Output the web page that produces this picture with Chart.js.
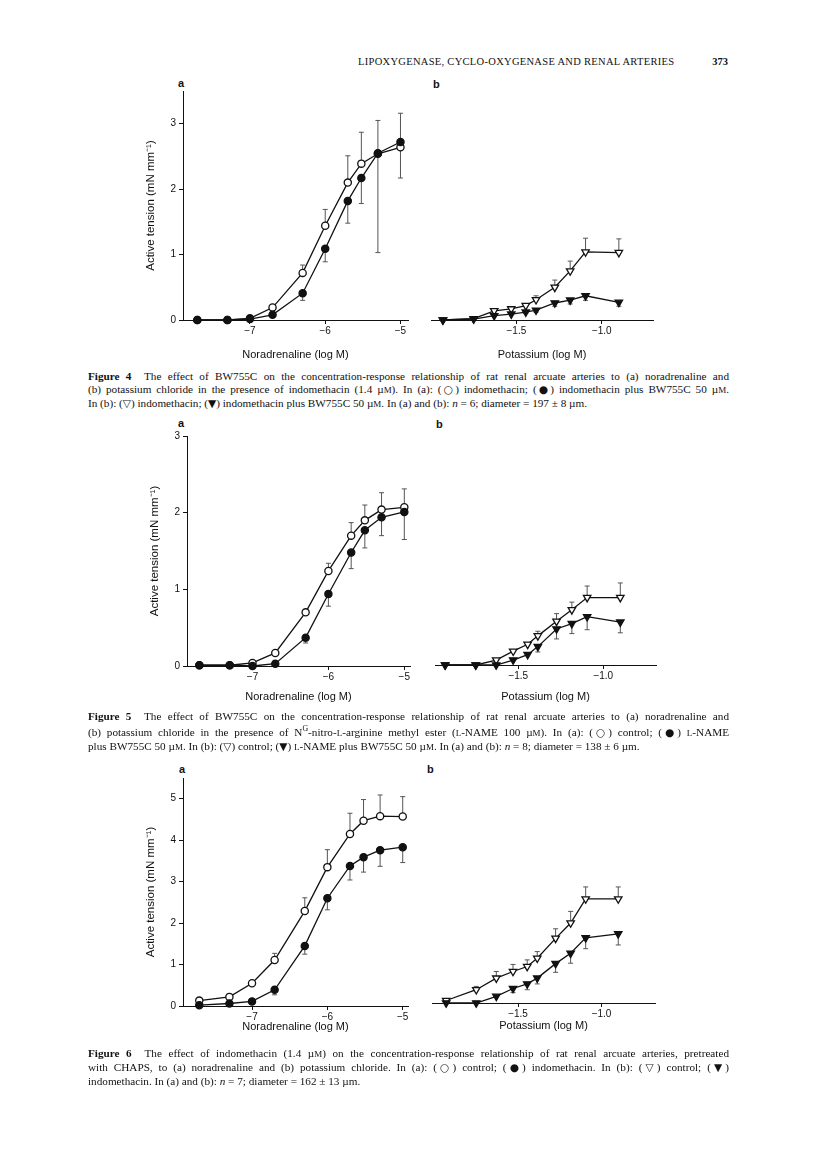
<!DOCTYPE html>
<html>
<head>
<meta charset="utf-8">
<script src="https://cdn.jsdelivr.net/npm/chart.js@4.4.0/dist/chart.umd.min.js"></script>
<style>
  body { margin: 0; background: #fff; }
  #page { position: relative; width: 816px; height: 1166px; overflow: hidden; background: #fff; color: #111; font-family: 'Liberation Serif', 'Times New Roman', serif; }
  .panel { position: absolute; }
  .letter { position: absolute; font: bold 11px 'Liberation Sans', Arial, sans-serif; line-height: 12px; }
  .caption { position: absolute; left: 88px; width: 641px; font-size: 11.2px; line-height: 12.9px; }
  .caption div { text-align: justify; text-align-last: justify; }
  .caption div.last { text-align-last: left; }
  .sc { font-size: 0.8em; }
  .sym { font-family: 'DejaVu Sans', sans-serif; font-size: 0.95em; }
  .header { position: absolute; top: 56px; left: 358px; font-size: 10.5px; letter-spacing: 0.3px; }
  .pageno { position: absolute; top: 56px; right: 88px; font-size: 10.5px; font-weight: bold; }
</style>
</head>
<body>
<div id="page">
  <div class="header">LIPOXYGENASE, CYCLO-OXYGENASE AND RENAL ARTERIES</div>
  <div class="pageno">373</div>

  <div class="letter" style="left:178px; top:77px">a</div>
  <div class="letter" style="left:433px; top:78px">b</div>
  <canvas id="fig4a" class="panel"></canvas>
  <canvas id="fig4b" class="panel"></canvas>
  <div class="caption" style="top:370px">
    <div><b>Figure 4</b>&nbsp; The effect of BW755C on the concentration-response relationship of rat renal arcuate arteries to (a) noradrenaline and</div>
    <div>(b) potassium chloride in the presence of indomethacin (1.4 µ<span class="sc">M</span>). In (a): (<span class="sym">○</span>) indomethacin; (<span class="sym">●</span>) indomethacin plus BW755C 50 µ<span class="sc">M</span>.</div>
    <div class="last">In (b): (<span class="sym">▽</span>) indomethacin; (<span class="sym">▼</span>) indomethacin plus BW755C 50 µ<span class="sc">M</span>. In (a) and (b): <i>n</i> = 6; diameter = 197 ± 8 µm.</div>
  </div>

  <div class="letter" style="left:178px; top:417px">a</div>
  <div class="letter" style="left:436px; top:418px">b</div>
  <canvas id="fig5a" class="panel"></canvas>
  <canvas id="fig5b" class="panel"></canvas>
  <div class="caption" style="top:710px">
    <div><b>Figure 5</b>&nbsp; The effect of BW755C on the concentration-response relationship of rat renal arcuate arteries to (a) noradrenaline and</div>
    <div>(b) potassium chloride in the presence of N<sup style="font-size:0.7em">G</sup>-nitro-<span class="sc">L</span>-arginine methyl ester (<span class="sc">L</span>-NAME 100 µ<span class="sc">M</span>). In (a): (<span class="sym">○</span>) control; (<span class="sym">●</span>) <span class="sc">L</span>-NAME</div>
    <div class="last">plus BW755C 50 µ<span class="sc">M</span>. In (b): (<span class="sym">▽</span>) control; (<span class="sym">▼</span>) <span class="sc">L</span>-NAME plus BW755C 50 µ<span class="sc">M</span>. In (a) and (b): <i>n</i> = 8; diameter = 138 ± 6 µm.</div>
  </div>

  <div class="letter" style="left:179px; top:763px">a</div>
  <div class="letter" style="left:427px; top:763px">b</div>
  <canvas id="fig6a" class="panel"></canvas>
  <canvas id="fig6b" class="panel"></canvas>
  <div class="caption" style="top:1047px">
    <div><b>Figure 6</b>&nbsp; The effect of indomethacin (1.4 µ<span class="sc">M</span>) on the concentration-response relationship of rat renal arcuate arteries, pretreated</div>
    <div>with CHAPS, to (a) noradrenaline and (b) potassium chloride. In (a): (<span class="sym">○</span>) control; (<span class="sym">●</span>) indomethacin. In (b): (<span class="sym">▽</span>) control; (<span class="sym">▼</span>)</div>
    <div class="last">indomethacin. In (a) and (b): <i>n</i> = 7; diameter = 162 ± 13 µm.</div>
  </div>
</div>

<script>
// x values (log M)
const noradrenalineLogM = [-7.7, -7.3, -7.0, -6.7, -6.3, -6.0, -5.7, -5.52, -5.3, -5.0];
const potassiumLogM = [-1.93, -1.75, -1.63, -1.53, -1.445, -1.385, -1.275, -1.185, -1.095, -0.90];
const noradrenalineTicks = [-7, -6, -5];
const potassiumTicks = [-1.5, -1.0];

// Figure 4 (mN mm-1), errors = s.e.mean
const fig4aOpen = [0, 0, 0.025, 0.19, 0.72, 1.44, 2.10, 2.39, 2.54, 2.64];
const fig4aOpenErr = [0, 0, 0, 0, 0.12, 0.25, 0.41, 0.48, 0.51, 0.52];
const fig4aFilled = [0, 0, 0.015, 0.08, 0.41, 1.09, 1.82, 2.17, 2.55, 2.72];
const fig4aFilledErr = [0, 0, 0, 0, 0.11, 0.20, 0.34, 0.39, 1.52, 0.55];
const fig4bOpen = [0, 0.02, 0.14, 0.17, 0.22, 0.31, 0.50, 0.75, 1.04, 1.03];
const fig4bOpenErr = [0, 0, 0, 0, 0.02, 0.06, 0.11, 0.15, 0.21, 0.21];
const fig4bFilled = [0, 0.015, 0.066, 0.09, 0.12, 0.15, 0.26, 0.305, 0.37, 0.27];
const fig4bFilledErr = [0, 0, 0, 0, 0.02, 0.03, 0.05, 0.06, 0.07, 0.06];
const fig4Ticks = [0, 1, 2, 3];

// Figure 5
const fig5aOpen = [0.01, 0.01, 0.04, 0.17, 0.70, 1.24, 1.70, 1.90, 2.04, 2.07];
const fig5aOpenErr = [0, 0, 0, 0, 0.03, 0.10, 0.17, 0.20, 0.22, 0.24];
const fig5aFilled = [0.01, 0.01, 0.0, 0.03, 0.37, 0.94, 1.48, 1.77, 1.94, 2.01];
const fig5aFilledErr = [0, 0, 0, 0, 0.07, 0.16, 0.21, 0.23, 0.24, 0.36];
const fig5bOpen = [0, 0, 0.065, 0.18, 0.27, 0.38, 0.57, 0.72, 0.88, 0.88];
const fig5bOpenErr = [0, 0, 0, 0, 0, 0.06, 0.10, 0.10, 0.15, 0.19];
const fig5bFilled = [0, 0, 0, 0.065, 0.135, 0.24, 0.47, 0.54, 0.63, 0.56];
const fig5bFilledErr = [0, 0, 0, 0, 0, 0.07, 0.13, 0.13, 0.17, 0.14];
const fig5Ticks = [0, 1, 2, 3];

// Figure 6
const fig6aOpen = [0.13, 0.22, 0.55, 1.11, 2.29, 3.35, 4.15, 4.47, 4.58, 4.57];
const fig6aOpenErr = [0, 0, 0, 0.16, 0.32, 0.42, 0.50, 0.51, 0.51, 0.48];
const fig6aFilled = [0.02, 0.06, 0.11, 0.39, 1.45, 2.60, 3.38, 3.59, 3.76, 3.83];
const fig6aFilledErr = [0, 0, 0, 0.12, 0.20, 0.28, 0.34, 0.36, 0.39, 0.37];
const fig6bOpen = [0.06, 0.32, 0.60, 0.76, 0.88, 1.08, 1.56, 1.93, 2.51, 2.51];
const fig6bOpenErr = [0, 0.08, 0.16, 0.17, 0.16, 0.16, 0.23, 0.28, 0.29, 0.29];
const fig6bFilled = [0, 0, 0.16, 0.35, 0.46, 0.60, 0.95, 1.20, 1.57, 1.67];
const fig6bFilledErr = [0, 0, 0, 0.10, 0.14, 0.14, 0.21, 0.24, 0.26, 0.27];
const fig6Ticks = [0, 1, 2, 3, 4, 5];

const INK = '#111';
const SANS = "'Liberation Sans', Arial, sans-serif";

// error bars: open symbols upward, filled symbols downward
const errorBars = {
    id: 'errorBars',
    beforeDatasetsDraw(chart) {
        const ctx = chart.ctx;
        const yScale = chart.scales.y;
        chart.data.datasets.forEach((ds, di) => {
            if (!ds.errors) return;
            const meta = chart.getDatasetMeta(di);
            ctx.save();
            ctx.strokeStyle = '#555';
            ctx.lineWidth = 1;
            meta.data.forEach((pt, i) => {
                const e = ds.errors[i];
                if (!e) return;
                const yEnd = yScale.getPixelForValue(ds.data[i].y + ds.errorDir * e);
                ctx.beginPath();
                ctx.moveTo(pt.x, pt.y);
                ctx.lineTo(pt.x, yEnd);
                ctx.moveTo(pt.x - 2.5, yEnd);
                ctx.lineTo(pt.x + 2.5, yEnd);
                ctx.stroke();
            });
            ctx.restore();
        });
    }
};

function makeSeries(xs, ys, errs, dir, filled, shape) {
    return {
        data: xs.map((x, i) => ({ x: x, y: ys[i] })),
        errors: errs,
        errorDir: dir,
        borderColor: INK,
        borderWidth: 1.3,
        tension: 0,
        clip: false,
        pointStyle: shape,
        pointRotation: shape === 'triangle' ? 180 : 0,
        pointRadius: shape === 'triangle' ? 4.3 : 3.6,
        pointBorderWidth: 1.3,
        pointBorderColor: INK,
        pointBackgroundColor: filled ? INK : '#fff'
    };
}

function fmtTick(v, decimals) {
    const s = Math.abs(v).toFixed(decimals);
    return (v < 0 ? '\u2212' : '') + s;
}

// area = chart area in page pixels
function makePanel(id, area, xMin, xMax, xTicks, xTitle, titleOff, yMax, yTicks, datasets, withY) {
    const padL = withY ? 55 : 10;
    const padT = 12, padR = 20, padB = 45;
    const canvas = document.getElementById(id);
    const w = Math.round(area.r - area.l + padL + padR);
    const h = Math.round(area.b - area.t + padT + padB);
    canvas.width = w;
    canvas.height = h;
    canvas.style.left = (area.l - padL) + 'px';
    canvas.style.top = (area.t - padT) + 'px';
    canvas.style.width = w + 'px';
    canvas.style.height = h + 'px';

    const decimals = xTicks.some(v => v % 1 !== 0) ? 1 : 0;

    return new Chart(canvas.getContext('2d'), {
        type: 'line',
        data: { datasets: datasets },
        options: {
            responsive: false,
            animation: false,
            devicePixelRatio: 1,
            layout: { padding: { left: withY ? 0 : padL, top: padT, right: padR, bottom: 0 } },
            plugins: { legend: { display: false }, tooltip: { enabled: false } },
            scales: {
                x: {
                    type: 'linear',
                    min: xMin,
                    max: xMax,
                    afterBuildTicks: (scale) => { scale.ticks = xTicks.map(v => ({ value: v })); },
                    afterFit: (scale) => { scale.height = padB; },
                    border: { display: true, color: INK, width: 1 },
                    grid: { display: true, drawOnChartArea: false, drawTicks: true, tickLength: 4, color: INK, lineWidth: 1 },
                    ticks: { color: INK, padding: 1, maxRotation: 0, font: { family: SANS, size: 10 },
                             callback: (v) => fmtTick(v, decimals) },
                    title: { display: true, text: xTitle, color: INK, font: { family: SANS, size: 11 },
                             padding: { top: 0, bottom: padB - titleOff - 6.6 } }
                },
                y: {
                    display: withY,
                    min: 0,
                    max: yMax,
                    afterBuildTicks: (scale) => { scale.ticks = yTicks.map(v => ({ value: v })); },
                    afterFit: (scale) => { scale.width = padL; },
                    border: { display: true, color: INK, width: 1 },
                    grid: { display: true, drawOnChartArea: false, drawTicks: true, tickLength: 4, color: INK, lineWidth: 1 },
                    ticks: { color: INK, padding: 3, font: { family: SANS, size: 10 } },
                    title: { display: true, text: 'Active tension (mN mm\u207B\u00B9)', color: INK,
                             font: { family: SANS, size: 11.5 }, padding: { top: padL - 32 - 6.9, bottom: 0 } }
                }
            }
        },
        plugins: [errorBars]
    });
}

const NORA_TITLE = 'Noradrenaline (log M)';
const POT_TITLE = 'Potassium (log M)';

// Figure 4
makePanel('fig4a', { l: 183, r: 408, t: 320.7 - 3.5 * 65.5, b: 320.7 }, -7.89, -4.9, noradrenalineTicks, NORA_TITLE, 34.5, 3.5, fig4Ticks, [
    makeSeries(noradrenalineLogM, fig4aFilled, fig4aFilledErr, -1, true, 'circle'),
    makeSeries(noradrenalineLogM, fig4aOpen, fig4aOpenErr, 1, false, 'circle')
], true);
makePanel('fig4b', { l: 421, r: 653, t: 320 - 3.5 * 65.5, b: 320 }, -2.0, -0.70, potassiumTicks, POT_TITLE, 35, 3.5, fig4Ticks, [
    makeSeries(potassiumLogM, fig4bFilled, fig4bFilledErr, -1, true, 'triangle'),
    makeSeries(potassiumLogM, fig4bOpen, fig4bOpenErr, 1, false, 'triangle')
], false);

// Figure 5
makePanel('fig5a', { l: 186.7, r: 410, t: 665.3 - 3 * 76.5, b: 665.3 }, -7.863, -4.925, noradrenalineTicks, NORA_TITLE, 31.4, 3, fig5Ticks, [
    makeSeries(noradrenalineLogM, fig5aFilled, fig5aFilledErr, -1, true, 'circle'),
    makeSeries(noradrenalineLogM, fig5aOpen, fig5aOpenErr, 1, false, 'circle')
], true);
makePanel('fig5b', { l: 425, r: 656, t: 664.3 - 3 * 76.5, b: 664.3 }, -1.99, -0.69, potassiumTicks, POT_TITLE, 32, 3, fig5Ticks, [
    makeSeries(potassiumLogM, fig5bFilled, fig5bFilledErr, -1, true, 'triangle'),
    makeSeries(potassiumLogM, fig5bOpen, fig5bOpenErr, 1, false, 'triangle')
], false);

// Figure 6
makePanel('fig6a', { l: 183.3, r: 408.3, t: 1006 - 5.5 * 41.47, b: 1006 }, -7.916, -4.93, noradrenalineTicks, NORA_TITLE, 21, 5.5, fig6Ticks, [
    makeSeries(noradrenalineLogM, fig6aFilled, fig6aFilledErr, -1, true, 'circle'),
    makeSeries(noradrenalineLogM, fig6aOpen, fig6aOpenErr, 1, false, 'circle')
], true);
makePanel('fig6b', { l: 421.7, r: 655, t: 1003.3 - 5.5 * 41.47, b: 1003.3 }, -2.015, -0.68, potassiumTicks, POT_TITLE, 23, 5.5, fig6Ticks, [
    makeSeries(potassiumLogM, fig6bFilled, fig6bFilledErr, -1, true, 'triangle'),
    makeSeries(potassiumLogM, fig6bOpen, fig6bOpenErr, 1, false, 'triangle')
], false);
</script>
</body>
</html>
